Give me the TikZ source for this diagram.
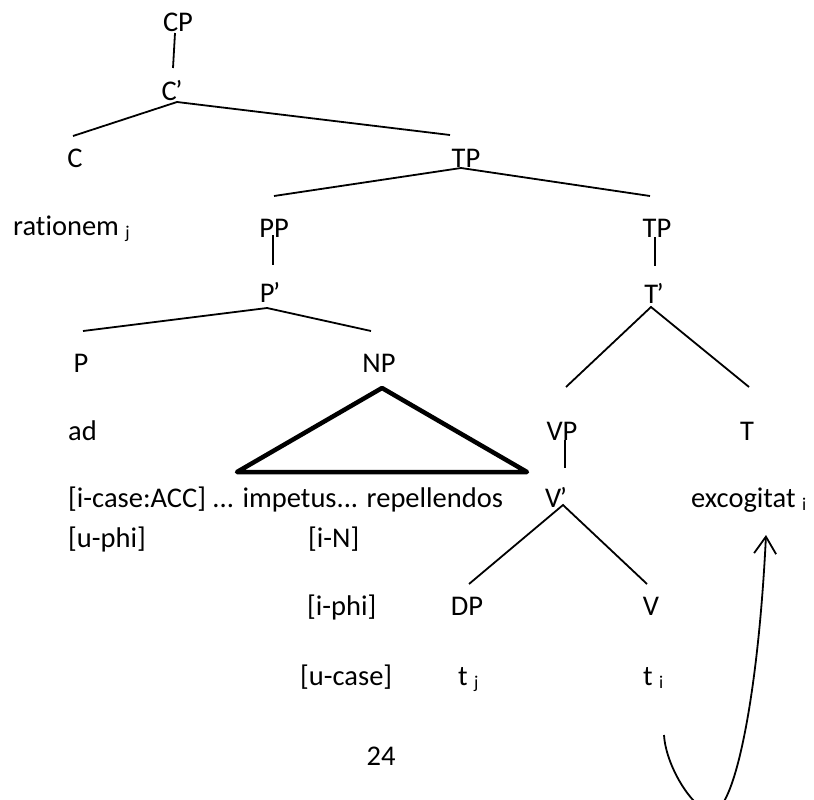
\documentclass[tikz,border=0pt]{standalone}
\usepackage{fontspec}
\setmainfont{Carlito}[Ligatures={NoCommon}]
\usetikzlibrary{arrows.meta}

% small lowered index letter (traces, moved items)
\newcommand{\lowsub}[1]{\raisebox{-0.14em}{\fontsize{18}{18}\selectfont #1}}
% bar-level prime set close to its category letter
\newcommand{\brr}{\kern-1.5pt’}

\begin{document}
\begin{tikzpicture}[x=1pt,y=-1pt,
  lbl/.style={inner sep=0pt,anchor=base,font=\fontsize{28.5}{34}\selectfont},
  lblw/.style={lbl,anchor=base west},
  branch/.style={line width=1.8pt},
  tri/.style={line width=4.5pt,line join=round,line cap=round},
  movearrow/.style={line width=1.8pt,-{Straight Barb[length=17pt,width=22pt,line width=1.8pt]}}]

\clip (0,0) rectangle (814,800);
\fill[white] (0,0) rectangle (814,800);

% category labels and words
\node[lbl]  (cp)    at (178,32)  {CP};
\node[lbl]  (cbar)  at (172,100) {C\brr};
\node[lbl]  (c)     at (75,167)  {C};
\node[lbl]  (tp)    at (466,167) {TP};
\node[lblw] (rat)   at (13,235)  {rationem \lowsub{j}};
\node[lbl]  (pp)    at (274,237) {PP};
\node[lbl]  (tpb)   at (657,237) {TP};
\node[lbl]  (pbar)  at (270,302) {P\brr};
\node[lbl]  (tbar)  at (654,303) {T\brr};
\node[lbl]  (p)     at (81,372)  {P};
\node[lbl]  (np)    at (379,372) {NP};
\node[lblw] (ad)    at (68,440)  {ad};
\node[lbl]  (vp)    at (562,440) {VP};
\node[lbl]  (t)     at (747,440) {T};
\node[lblw] (feat)  at (68,507)  {[i-case:ACC] ... impetus... repellendos};
\node[lbl]  (vbar)  at (556,507) {V\brr};
\node[lblw] (exc)   at (691,507) {excogitat \lowsub{i}};
\node[lblw] (uphi)  at (68,547)  {[u-phi]};
\node[lblw] (iN)    at (308,547) {[i-N]};
\node[lblw] (iphi)  at (307,615) {[i-phi]};
\node[lbl]  (dp)    at (467,615) {DP};
\node[lbl]  (v)     at (651,615) {V};
\node[lblw] (ucase) at (300,685) {[u-case]};
\node[lblw] (tj)    at (458,685) {t \lowsub{j}};
\node[lblw] (ti)    at (643,685) {t \lowsub{i}};
\node[lbl]  (pg)    at (381,765) {24};

% branches
\draw[branch] ([shift={(-3,1)}]cp.base)   -- ([shift={(1,-32)}]cbar.base);
\draw[branch] ([shift={(-16,-32)}]tp.base) -- ([shift={(5,2)}]cbar.base) -- ([shift={(-2,-31)}]c.base);
\draw[branch] ([shift={(0,-41)}]pp.base) -- ([shift={(-5,1)}]tp.base) -- ([shift={(-7,-41)}]tpb.base);
\draw[branch] ([shift={(-1,-2)}]pp.base)  -- ([shift={(3,-37)}]pbar.base);
\draw[branch] ([shift={(2,-41)}]p.base) -- ([shift={(-3,6)}]pbar.base) -- ([shift={(-8,-41)}]np.base);
\draw[branch] ([shift={(-2,0)}]tpb.base)  -- ([shift={(1,-37)}]tbar.base);
\draw[branch] ([shift={(4,-53)}]vp.base) -- ([shift={(-3,4)}]tbar.base) -- ([shift={(2,-53)}]t.base);
\draw[branch] ([shift={(3,0)}]vp.base)    -- ([shift={(9,-39)}]vbar.base);
\draw[branch] ([shift={(2,-31)}]dp.base) -- ([shift={(7,-2)}]vbar.base) -- ([shift={(-4,-31)}]v.base);

% collapsed NP
\draw[tri] ([shift={(3,16)}]np.base) -- ([shift={(-142,100)}]np.base)
  -- ([shift={(148,100)}]np.base) -- cycle;

% head movement of the verb
\coordinate (mvlow) at ([shift={(69,127)}]ti.base west);
\draw[movearrow] ([shift={(21,50)}]ti.base west)
  .. controls ([shift={(23,83)}]ti.base west) and ([shift={(52,127)}]ti.base west) .. (mvlow)
  .. controls ([shift={(91,127)}]ti.base west) and ([shift={(115,15)}]ti.base west) .. ([shift={(75,28)}]exc.base west);

\end{tikzpicture}
\end{document}
